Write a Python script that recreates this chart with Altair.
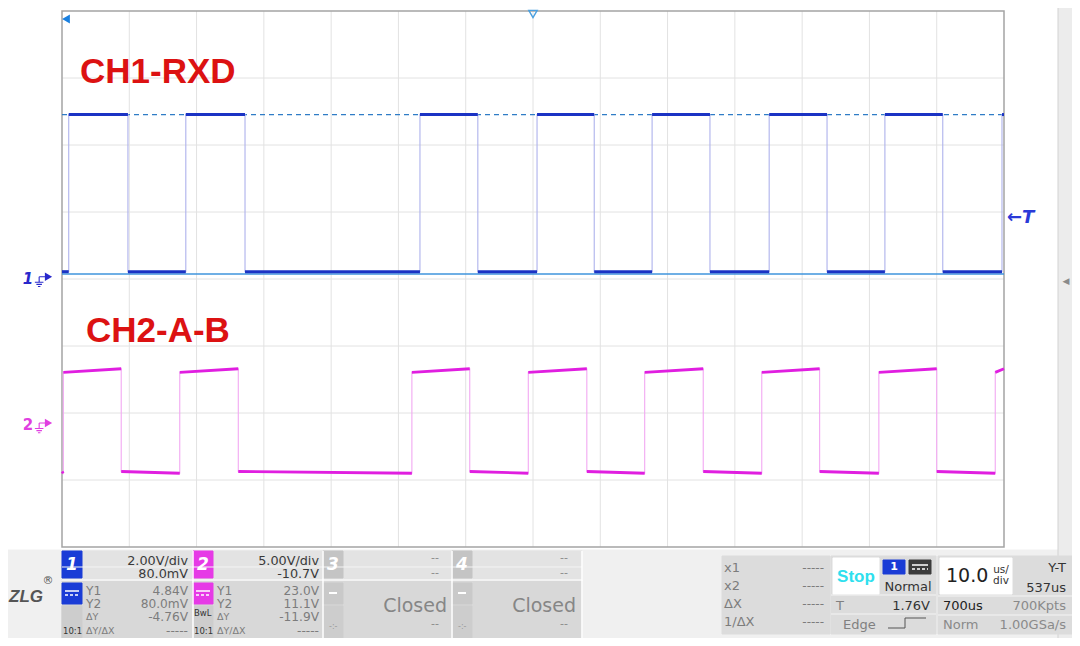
import altair as alt
import pandas as pd

TIME_DIV_US = 10.0          # 10.0 us/div
N_DIV_X, N_DIV_Y = 14, 8
CH1_V_PER_DIV = 2.00
CH2_V_PER_DIV = 5.00

# CH1 (RXD): edge times in us, trace starts low
ch1_edges_us = [1.0, 9.8, 18.4, 27.2, 53.2, 61.8, 70.6, 79.1, 87.7, 96.3,
                105.1, 113.7, 122.3, 130.9, 139.7]
ch1_high_v = 4.84
ch1_low_v = 0.15

# CH2 (A-B): edge times in us, trace starts low
ch2_edges_us = [0.2, 8.8, 17.5, 26.2, 52.0, 60.6, 69.3, 78.0, 86.6, 95.3,
                104.0, 112.6, 121.4, 130.0, 138.7]
ch2_high_v = [3.78, 4.05]    # level at start / end of each high pulse
ch2_low_v = [-3.62, -3.75]   # level at start / end of each low period

cursor_y1_v = 4.84
cursor_y2_v = 0.08
trigger_level_v = 1.76
trigger_pos_us = 70.0

trace_labels = ["CH1-RXD", "CH2-A-B"]

ch1_readout = ["2.00V/div", "80.0mV", "4.84V", "80.0mV", "-4.76V", "-----"]
ch2_readout = ["5.00V/div", "-10.7V", "23.0V", "11.1V", "-11.9V", "-----"]
meas_labels = ["Y1", "Y2", "ΔY", "ΔY/ΔX"]
cursor_labels = ["x1", "x2", "ΔX", "1/ΔX"]
cursor_values = ["-----", "-----", "-----", "-----"]

# ---------------- screen geometry (page pixels) ----------------
OFF, W, H = 8, 1064, 630
PLOT_L, PLOT_R, PLOT_T, PLOT_B = 62, 1004, 11, 547
CH1_ZERO_PX, CH2_ZERO_PX = 276.7, 423.0
DIVX = (PLOT_R - PLOT_L) / N_DIV_X
DIVY = (PLOT_B - PLOT_T) / N_DIV_Y
T_END = N_DIV_X * TIME_DIV_US


def lin(lo, hi):
    return alt.Scale(domain=[lo, hi], nice=False, zero=False)


SX_PX = lin(OFF, OFF + W)
SY_PX = lin(OFF + H, OFF)
_ppu = DIVX / TIME_DIV_US
SX_T = lin((OFF - PLOT_L) / _ppu, (OFF + W - PLOT_L) / _ppu)


def volt_scale(zero_px, vdiv):
    k = DIVY / vdiv
    return lin((zero_px - (OFF + H)) / k, (zero_px - OFF) / k)


SY_CH1 = volt_scale(CH1_ZERO_PX, CH1_V_PER_DIV)
SY_CH2 = volt_scale(CH2_ZERO_PX, CH2_V_PER_DIV)
SY_DIV = lin((PLOT_B - (OFF + H)) / DIVY, (PLOT_B - OFF) / DIVY)


def enc(sx, sy, x="x", y="y", x2=None, y2=None, **kw):
    e = dict(x=alt.X(f"{x}:Q", scale=sx, axis=None),
             y=alt.Y(f"{y}:Q", scale=sy, axis=None))
    if x2:
        e["x2"] = alt.X2(f"{x2}:Q")
    if y2:
        e["y2"] = alt.Y2(f"{y2}:Q")
    e.update(kw)
    return e


layers = []

# ---------------- grid and frame ----------------
grid_v = pd.DataFrame({"t": [TIME_DIV_US * i for i in range(1, N_DIV_X)], "d0": 0, "d1": N_DIV_Y})
grid_h = pd.DataFrame({"d": list(range(1, N_DIV_Y)), "t0": 0.0, "t1": T_END})
layers.append(alt.Chart(grid_v).mark_rule(color="#e2e2e2", strokeWidth=1).encode(
    **enc(SX_T, SY_DIV, x="t", y="d0", y2="d1")))
layers.append(alt.Chart(grid_h).mark_rule(color="#e2e2e2", strokeWidth=1).encode(
    **enc(SX_T, SY_DIV, x="t0", x2="t1", y="d")))
frame = pd.DataFrame({"t0": [0.0], "t1": [T_END], "d0": [0], "d1": [N_DIV_Y]})
layers.append(alt.Chart(frame).mark_rect(fillOpacity=0, stroke="#a4a4a4", strokeWidth=1.5).encode(
    **enc(SX_T, SY_DIV, x="t0", x2="t1", y="d0", y2="d1")))

# ---------------- cursors ----------------
cur1 = pd.DataFrame({"t0": [0.0], "t1": [T_END], "v": [cursor_y1_v]})
cur2 = pd.DataFrame({"t0": [0.0], "t1": [T_END], "v": [cursor_y2_v]})
layers.append(alt.Chart(cur1).mark_rule(color="#2f7cc6", strokeWidth=1.3, strokeDash=[5, 4]).encode(
    **enc(SX_T, SY_CH1, x="t0", x2="t1", y="v")))
layers.append(alt.Chart(cur2).mark_rule(color="#3f95dc", strokeWidth=1.6).encode(
    **enc(SX_T, SY_CH1, x="t0", x2="t1", y="v")))


# ---------------- waveforms ----------------
def segments(edges, t_end, start_high=False):
    segs, t0, hi = [], 0.0, start_high
    for t in edges:
        segs.append((t0, t, hi))
        t0, hi = t, not hi
    segs.append((t0, t_end, hi))
    return segs


def trace_frames(edges, hi_lv, lo_lv):
    pts, segs = [], []
    for t0, t1, hi in segments(edges, T_END):
        va, vb = hi_lv if hi else lo_lv
        pts += [(t0, va), (t1, vb)]
        segs.append((t0, t1, va, vb))
    line = pd.DataFrame(pts, columns=["t", "v"])
    line["i"] = range(len(line))
    seg = pd.DataFrame(segs, columns=["t0", "t1", "v0", "v1"])
    return line, seg


l1, s1 = trace_frames(ch1_edges_us, (ch1_high_v, ch1_high_v), (ch1_low_v, ch1_low_v))
l2, s2 = trace_frames(ch2_edges_us, tuple(ch2_high_v), tuple(ch2_low_v))

layers.append(alt.Chart(l1).mark_line(color="#aeb2ec", strokeWidth=1.1).encode(
    **enc(SX_T, SY_CH1, x="t", y="v", order=alt.Order("i:Q"))))
layers.append(alt.Chart(s1).mark_rule(color="#1b33c4", strokeWidth=3).encode(
    **enc(SX_T, SY_CH1, x="t0", x2="t1", y="v0", y2="v1")))
layers.append(alt.Chart(l2).mark_line(color="#f2a8f2", strokeWidth=1.1).encode(
    **enc(SX_T, SY_CH2, x="t", y="v", order=alt.Order("i:Q"))))
layers.append(alt.Chart(s2).mark_rule(color="#e01ee0", strokeWidth=2.8).encode(
    **enc(SX_T, SY_CH2, x="t0", x2="t1", y="v0", y2="v1")))

# ---------------- trace labels ----------------
lab = pd.DataFrame({"x": [80, 86], "y": [83, 342], "text": trace_labels})
layers.append(alt.Chart(lab).mark_text(font="Liberation Sans", fontWeight="bold", fontSize=35,
                                       color="#dc1212", align="left", baseline="alphabetic").encode(
    **enc(SX_PX, SY_PX, text="text:N")))

# ---------------- channel / trigger markers ----------------
GROUND = "M -0.3 0 L 1 0 M -0.3 0 L -0.3 0.9 M -1 0.9 L 0.4 0.9 M -0.75 1.25 L 0.15 1.25 M -0.5 1.6 L -0.1 1.6"
for zero_scale, col, num, italic in [(SY_CH1, "#2828cc", "1", "italic"), (SY_CH2, "#e040e0", "2", "normal")]:
    m = pd.DataFrame({"x": [28.0], "xg": [41.0], "xa": [48.5], "v": [0.0], "text": [num]})
    layers.append(alt.Chart(m).mark_text(font="DejaVu Sans", fontWeight="bold", fontStyle=italic,
                                         fontSize=15, color=col, baseline="middle", dy=2).encode(
        **enc(SX_PX, zero_scale, x="x", y="v", text="text:N")))
    layers.append(alt.Chart(m).mark_point(shape=GROUND, size=150, filled=False, color=col, strokeWidth=1.1,
                                          opacity=1).encode(**enc(SX_PX, zero_scale, x="xg", y="v")))
    layers.append(alt.Chart(m).mark_point(shape="triangle-right", size=70, filled=True, color=col,
                                          opacity=1).encode(**enc(SX_PX, zero_scale, x="xa", y="v")))

trig = pd.DataFrame({"x": [1007.0], "v": [trigger_level_v], "text": ["←T"]})
layers.append(alt.Chart(trig).mark_text(font="DejaVu Sans", fontWeight="bold", fontStyle="italic",
                                        fontSize=18, color="#2a3ad8", align="left", baseline="middle").encode(
    **enc(SX_PX, SY_CH1, x="x", y="v", text="text:N")))

offm = pd.DataFrame({"x": [66.0], "y": [19.0]})
layers.append(alt.Chart(offm).mark_point(shape="triangle-left", size=80, filled=True, color="#1a80e0",
                                         opacity=1).encode(**enc(SX_PX, SY_PX)))
tpos = pd.DataFrame({"t": [trigger_pos_us], "y": [14.0]})
layers.append(alt.Chart(tpos).mark_point(shape="triangle-down", size=70, filled=False, color="#4aa0e0",
                                         strokeWidth=1.4, opacity=1).encode(**enc(SX_T, SY_PX, x="t")))

# ---------------- status panel (bottom) ----------------
BLUE, MAG, GREY_BOX = "#1a3cd6", "#e63ae6", "#c4c4c4"
CH_X0 = [62, 193, 323, 452]
CH_COL = [BLUE, MAG, GREY_BOX, GREY_BOX]
rects = [
    (0, 1080, 550, 641, "#f0f0f0", "#f0f0f0"),
    (1058, 1080, 5, 641, "#ececec", "#d2d2d2"),
    (722, 830, 556, 634, "#dcdcdc", "#dcdcdc"),
    (831, 936, 556, 634, "#dcdcdc", "#dcdcdc"),
    (833, 879, 558, 594, "#ffffff", "#ffffff"),
    (883, 905, 560, 574, BLUE, BLUE),
    (909, 931, 560, 574, "#3c3c3c", "#3c3c3c"),
    (938, 1072, 556, 634, "#dcdcdc", "#dcdcdc"),
    (940, 1012, 558, 594, "#ffffff", "#ffffff"),
]
for x0, col in zip(CH_X0, CH_COL):
    cpl = col if col != GREY_BOX else "#c9c9c9"
    rects += [
        (x0, x0 + 130, 551, 580, "#e3e3e3", "#e3e3e3"),
        (x0, x0 + 130, 581, 640, "#d8d8d8", "#d8d8d8"),
        (x0, x0 + 20, 551, 578, col, col),
        (x0, x0 + 20, 583, 604, cpl, cpl),
        (x0, x0 + 20, 606, 640, "#cdcdcd", "#cdcdcd"),
    ]
rdf = pd.DataFrame(rects, columns=["x0", "x1", "y0", "y1", "fill", "stroke"])
rdf["k"] = range(len(rdf))
layers.append(alt.Chart(rdf).mark_rect(strokeWidth=1).encode(
    **enc(SX_PX, SY_PX, x="x0", x2="x1", y="y0", y2="y1",
          color=alt.Color("fill:N", scale=None), stroke=alt.Stroke("stroke:N", scale=None),
          order=alt.Order("k:Q"))))

# separators / small icon strokes
lines = [
    (62, 582, 567, 567, "#f4f4f4", 1, 0), (62, 582, 580, 580, "#f8f8f8", 1.5, 0),
    (193, 193, 551, 640, "#ffffff", 1.5, 0), (323, 323, 551, 640, "#ffffff", 1.5, 0),
    (452, 452, 551, 640, "#ffffff", 1.5, 0), (582, 582, 551, 640, "#ffffff", 1.5, 0),
    (831, 936, 595, 595, "#f4f4f4", 1, 0), (831, 936, 614, 614, "#f4f4f4", 1, 0),
    (938, 1072, 596, 596, "#f4f4f4", 1, 0), (938, 1072, 615, 615, "#f4f4f4", 1, 0),
    (888, 905, 628, 628, "#555555", 1, 0), (905, 905, 618, 628, "#555555", 1, 0),
    (905, 926, 618, 618, "#555555", 1, 0),
    (912, 928, 565, 565, "#ffffff", 1.5, 0), (912, 928, 569, 569, "#ffffff", 1.5, 1),
]
for x0 in CH_X0[:2]:
    lines += [(x0 + 3, x0 + 17, 591, 591, "#ffffff", 1.5, 0), (x0 + 3, x0 + 17, 595, 595, "#ffffff", 1.5, 1)]
for x0 in CH_X0[2:]:
    lines += [(x0 + 6, x0 + 14, 593, 593, "#ffffff", 2, 0)]
ldf = pd.DataFrame(lines, columns=["x0", "x1", "y0", "y1", "c", "w", "dash"])
for dash, sub in ldf.groupby("dash"):
    layers.append(alt.Chart(sub).mark_rule(strokeDash=[3, 2] if dash else [1, 0]).encode(
        **enc(SX_PX, SY_PX, x="x0", x2="x1", y="y0", y2="y1",
              color=alt.Color("c:N", scale=None), strokeWidth=alt.StrokeWidth("w:Q", scale=None))))


def txt(rows, size=13, color="#505050", align="left", weight="normal", style="normal",
        font="DejaVu Sans", baseline="middle"):
    df = pd.DataFrame(rows, columns=["x", "y", "text"])
    return alt.Chart(df).mark_text(font=font, fontSize=size, color=color, align=align, fontWeight=weight,
                                   fontStyle=style, baseline=baseline).encode(
        **enc(SX_PX, SY_PX, text="text:N"))


TOP_Y = [561, 574]
LOW_Y = [591, 604, 617, 631]
top_rows, low_rows, lab_rows, lab_small = [], [], [], []
for x0, vals in [(62, ch1_readout), (193, ch2_readout)]:
    xr = x0 + 126
    top_rows += [(xr, TOP_Y[0], vals[0]), (xr, TOP_Y[1], vals[1])]
    low_rows += [(xr, y, v) for y, v in zip(LOW_Y, vals[2:])]
    lab_rows += [(x0 + 24, LOW_Y[0], meas_labels[0]), (x0 + 24, LOW_Y[1], meas_labels[1])]
    lab_small += [(x0 + 24, LOW_Y[2], meas_labels[2]), (x0 + 24, LOW_Y[3], meas_labels[3])]
layers.append(txt(top_rows, size=12.8, color="#3a3a3a", align="right"))
layers.append(txt(low_rows, size=12.2, color="#7c7c7c", align="right"))
layers.append(txt(lab_rows, size=12.2, color="#7c7c7c"))
layers.append(txt(lab_small, size=9.5, color="#7c7c7c"))

layers.append(txt([(x0 + 10, 565, str(i + 1)) for i, x0 in enumerate(CH_X0)], size=17, color="#ffffff",
                  align="center", weight="bold", style="italic"))
layers.append(txt([(63, 631, "10:1"), (194, 631, "10:1"), (194, 613, "BwL")], size=8.5, color="#333333"))

closed_rows, dash_rows, tiny_rows = [], [], []
for x0 in CH_X0[2:]:
    closed_rows.append((x0 + 124, 606, "Closed"))
    dash_rows += [(x0 + 116, 558, "--"), (x0 + 116, 573, "--"), (x0 + 116, 624, "--")]
    tiny_rows.append((x0 + 6, 627, "-:-"))
layers.append(txt(closed_rows, size=19, color="#868686", align="right"))
layers.append(txt(dash_rows, size=11, color="#8a8a8a", align="right"))
layers.append(txt(tiny_rows, size=8, color="#9a9a9a"))

CUR_Y = [568, 586, 604, 622]
layers.append(txt([(724, y, s) for y, s in zip(CUR_Y, cursor_labels)], size=13, color="#7c7c7c"))
layers.append(txt([(824, y, s) for y, s in zip(CUR_Y, cursor_values)], size=12, color="#7c7c7c", align="right"))

layers.append(txt([(856, 577, "Stop")], size=17, color="#2fdfee", align="center", weight="bold",
                  font="Liberation Sans"))
layers.append(txt([(894, 567, "1")], size=11, color="#ffffff", align="center", weight="bold"))
layers.append(txt([(908, 587, "Normal")], size=13, color="#333333", align="center"))
layers.append(txt([(930, 606, "1.76V")], size=13, color="#333333", align="right"))
layers.append(txt([(836, 606, "T"), (843, 625, "Edge")], size=13, color="#808080"))

layers.append(txt([(946, 576, "10.0")], size=19, color="#222222"))
layers.append(txt([(1001, 570, "us/"), (1001, 581, "div")], size=10.5, color="#333333", align="center"))
layers.append(txt([(1066, 568, "Y-T"), (1066, 588, "537us")], size=13, color="#333333", align="right"))
layers.append(txt([(943, 606, "700us")], size=13, color="#222222"))
layers.append(txt([(1066, 606, "700Kpts"), (1066, 625, "1.00GSa/s")], size=13, color="#8a8a8a", align="right"))
layers.append(txt([(943, 625, "Norm")], size=13, color="#8a8a8a"))

layers.append(txt([(26, 597, "ZLG")], size=17, color="#555555", align="center", weight="bold", style="italic",
                  font="Liberation Sans"))
layers.append(txt([(48, 581, "®")], size=11, color="#555555", align="center"))
layers.append(txt([(1066, 281, "◀")], size=9, color="#8a8a8a", align="center"))

chart = alt.layer(*layers).resolve_scale(x="independent", y="independent").properties(
    width=W, height=H, padding=0, autosize="none", background="#ffffff"
).configure_view(stroke=None)

chart.save("out.html", embed_options={"renderer": "svg", "actions": False})
